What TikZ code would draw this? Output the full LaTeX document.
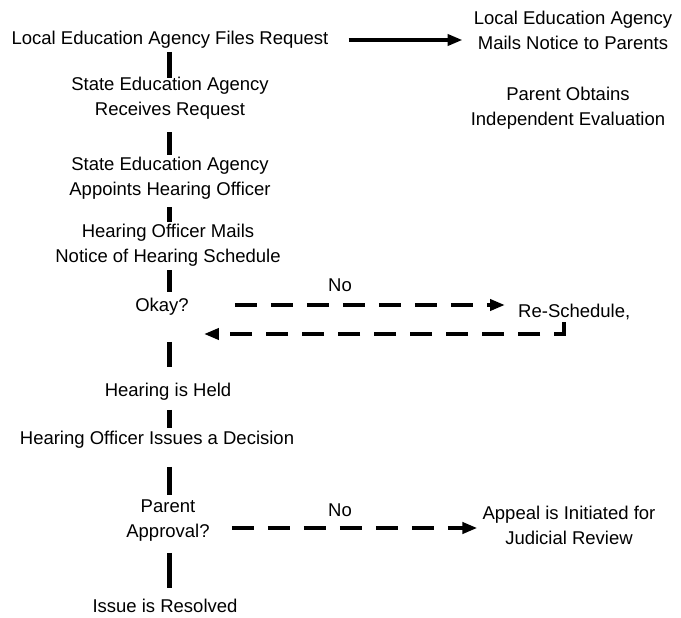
\documentclass[tikz,border=0pt]{standalone}
\usepackage{fontspec}
\setmainfont{Liberation Sans}
\usetikzlibrary{arrows.meta}
\begin{document}
\begin{tikzpicture}[x=1pt,y=-1pt,
  lbl/.style={font=\fontsize{18.5}{25}\selectfont, align=center, inner sep=0pt},
  bar/.style={line width=5pt},
  head/.style={-{Triangle[length=15pt,width=11pt]}},
  solidarrow/.style={line width=4.5pt, head},
  dasharrow/.style={line width=4.5pt, dash pattern=on 22pt off 14pt, head}]
\useasboundingbox (0,0) rectangle (681,618);

% main column
\coordinate (spine) at (169,0);
\node[lbl] (lea)   at (170,40)  {Local Education Agency Files Request};
\node[lbl] (sea)   at (170,98)  {State Education Agency\\Receives Request};
\node[lbl] (app)   at (170,178) {State Education Agency\\Appoints Hearing Officer};
\node[lbl] (mail)  at (168,245) {Hearing Officer Mails\\Notice of Hearing Schedule};
\node[lbl] (okay)  at (162,307) {Okay?};
\node[lbl] (held)  at (168,392) {Hearing is Held};
\node[lbl] (dec)   at (157,440) {Hearing Officer Issues a Decision};
\node[lbl] (appr)  at (168,521) {Parent\\Approval?};
\node[lbl] (res)   at (165,606) {Issue is Resolved};

% side branches
\node[lbl] (lmail)  at (573,30)  {Local Education Agency\\Mails Notice to Parents};
\node[lbl] (indep)  at (568,108) {Parent Obtains\\Independent Evaluation};
\node[lbl, anchor=west] (resch) at (518,312) {Re-Schedule,};
\node[lbl] (appeal) at (569,525) {Appeal is Initiated for\\Judicial Review};
\node[lbl] (no1) at (340,285) {No};
\node[lbl] (no2) at (340,510) {No};

% vertical links of the main column (gap below / gap above each link)
\foreach \a/\b/\s/\t in {lea/sea/3/-1, sea/app/13/2, app/mail/8/2, mail/okay/4/6,
                         okay/held/26/16, held/dec/9/3, dec/appr/18/5, appr/res/11/11}
  \draw[bar, shorten <=\s pt, shorten >=\t pt] (spine |- \a.south) -- (spine |- \b.north);

% notice to parents
\draw[solidarrow, shorten <=20pt, shorten >=11pt] (lea.east) -- (lea.east -| lmail.west);

% rescheduling loop
\draw[dasharrow, shorten <=46pt, shorten >=13pt] ([yshift=2pt]okay.east) -- ([yshift=2pt]okay.east -| resch.west);
\coordinate (rtop) at (564,322);
\draw[dasharrow, shorten >=15pt] (rtop) |- ([yshift=-27pt]okay.east);

% appeal
\draw[dasharrow, shorten <=22pt, shorten >=5pt] ([yshift=-7pt]appr.east) -- ([yshift=-7pt]appr.east -| appeal.west);
\end{tikzpicture}
\end{document}
